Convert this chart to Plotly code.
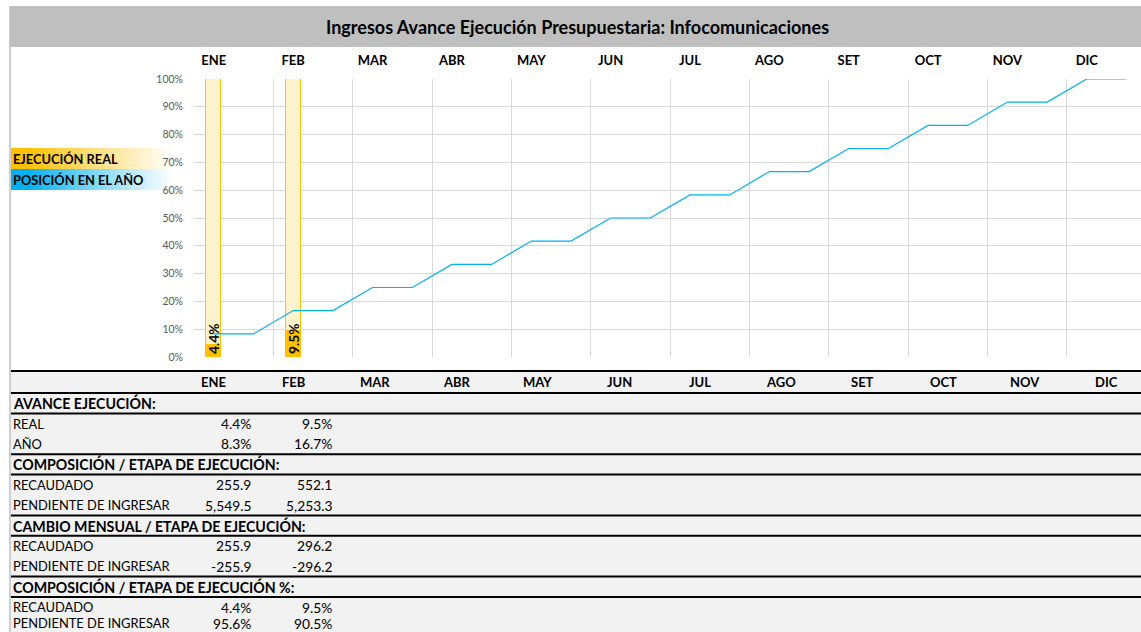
import plotly.graph_objects as go

# ---------------- data ----------------
months = ["ENE", "FEB", "MAR", "ABR", "MAY", "JUN", "JUL", "AGO", "SET", "OCT", "NOV", "DIC"]
real_pct = [4.4, 9.5]
year_pct = [8.3, 16.7, 25.0, 33.3, 41.7, 50.0, 58.3, 66.7, 75.0, 83.3, 91.7, 100.0]
recaudado = [255.9, 552.1]
pendiente = [5549.5, 5253.3]
cambio_recaudado = [255.9, 296.2]
cambio_pendiente = [-255.9, -296.2]
comp_recaudado_pct = [4.4, 9.5]
comp_pendiente_pct = [95.6, 90.5]
y_ticks = [0, 10, 20, 30, 40, 50, 60, 70, 80, 90, 100]

title = "Ingresos Avance Ejecución Presupuestaria: Infocomunicaciones"
legend_items = [("EJECUCIÓN REAL", "#ffc000"), ("POSICIÓN EN EL AÑO", "#00b0f0")]

# ---------------- helpers ----------------
W, H = 1141, 632
FONT = "Lato"
GOLD, LIGHT, BLUE = "#ffc000", "#fff2cc", "#00b0f0"


def px(x):
    return x / W


def py(y):
    return 1 - y / H


def pct(v):
    return f"{v:.1f}%"


def num(v):
    return f"{v:,.1f}"


fig = go.Figure()

n_real = len(real_pct)
idx_real = list(range(n_real))

# background bars (100%)
fig.add_trace(go.Bar(x=idx_real, y=[100] * n_real, width=0.19,
                     marker=dict(color=LIGHT, line=dict(color=GOLD, width=1)),
                     hoverinfo="skip", showlegend=False))
# actual execution bars
fig.add_trace(go.Bar(x=idx_real, y=real_pct, width=0.19,
                     marker=dict(color=GOLD, line=dict(color=GOLD, width=1)),
                     showlegend=False))
# label carrier (transparent)
fig.add_trace(go.Bar(x=idx_real, y=[100] * n_real, width=0.19,
                     marker=dict(color="rgba(0,0,0,0)", line=dict(width=0)),
                     text=[pct(v) for v in real_pct], textposition="inside",
                     insidetextanchor="start", textangle=-90, constraintext="none",
                     textfont=dict(family=FONT, size=13.8, color="black", weight="bold"),
                     hoverinfo="skip", showlegend=False))

# year position step line
lx, ly = [], []
for i, v in enumerate(year_pct):
    lx += [i, i + 0.5]
    ly += [v, v]
fig.add_trace(go.Scatter(x=lx, y=ly, mode="lines", line=dict(color=BLUE, width=1.2),
                         showlegend=False))

cat_w = 79.36
x0_px = 194
fig.update_layout(
    width=W, height=H, margin=dict(l=0, r=0, t=0, b=0, pad=0, autoexpand=False),
    paper_bgcolor="white", plot_bgcolor="white", barmode="overlay", bargap=0,
    font=dict(family=FONT, color="black"),
    xaxis=dict(domain=[px(x0_px), 1.0], range=[-0.25, -0.25 + (W - x0_px) / cat_w],
               tickmode="array", tickvals=list(range(12)), ticktext=months, side="top",
               ticks="", showgrid=False, zeroline=False, showline=False, automargin=False,
               tickfont=dict(family=FONT, size=13, color="black", weight="bold"),
               ticklabelstandoff=10,
               minor=dict(tickmode="linear", tick0=-0.25, dtick=1, showgrid=True,
                          gridcolor="#d9d9d9", gridwidth=1, ticks="")),
    yaxis=dict(domain=[py(357), py(79)], range=[0, 100], tickmode="array",
               tickvals=y_ticks, ticktext=[f"{v}%" for v in y_ticks],
               showgrid=True, gridcolor="#d9d9d9", gridwidth=1, zeroline=False,
               ticks="", ticklabelstandoff=10, automargin=False,
               tickfont=dict(family=FONT, size=10.5, color="#595959")),
)

shapes = []
annotations = []

# title bar
shapes.append(dict(type="rect", xref="paper", yref="paper", x0=px(10), x1=1, y0=py(47), y1=py(6),
                   fillcolor="#bfbfbf", line=dict(width=0), layer="below"))
annotations.append(dict(text=f"<b>{title}</b>", xref="paper", yref="paper", x=px(577), y=py(27),
                        showarrow=False, xanchor="center", yanchor="middle",
                        font=dict(family=FONT, size=18, color="black")))
# left border
shapes.append(dict(type="line", xref="paper", yref="paper", x0=px(10), x1=px(10), y0=0, y1=py(6),
                   line=dict(color="#bfbfbf", width=1.5)))

# legend with gradients
def mix(c, t):
    r, g, b = int(c[1:3], 16), int(c[3:5], 16), int(c[5:7], 16)
    return "rgb({},{},{})".format(int(r + (255 - r) * t), int(g + (255 - g) * t), int(b + (255 - b) * t))


leg_top = [148, 169]
for (label, color), top in zip(legend_items, leg_top):
    x_start, x_end, step = 11, 172, 2
    xs = x_start
    while xs < x_end:
        t = max(0.0, (xs - x_start - 15) / (x_end - x_start - 15))
        shapes.append(dict(type="rect", xref="paper", yref="paper", x0=px(xs), x1=px(min(xs + step, x_end)),
                           y0=py(top + 21), y1=py(top), fillcolor=mix(color, t ** 0.9),
                           line=dict(width=0), layer="below"))
        xs += step
    annotations.append(dict(text=f"<b>{label}</b>", xref="paper", yref="paper", x=px(10.5), y=py(top + 10.5),
                            showarrow=False, xanchor="left", yanchor="middle",
                            font=dict(family=FONT, size=12.8, color="black")))

# ---------------- table ----------------
shapes.append(dict(type="rect", xref="paper", yref="paper", x0=px(11), x1=1, y0=0, y1=py(371),
                   fillcolor="#f2f2f2", line=dict(width=0), layer="below"))

row_h = 20.4
col_c = [213 + i * 81.2 for i in range(12)]

# header row
for i, m in enumerate(months):
    annotations.append(dict(text=f"<b>{m}</b>", xref="paper", yref="paper", x=px(col_c[i]), y=py(382),
                            showarrow=False, xanchor="center", yanchor="middle",
                            font=dict(family=FONT, size=13, color="black")))

sections = [
    ("AVANCE EJECUCIÓN:", [("REAL", [pct(v) for v in real_pct]),
                           ("AÑO", [pct(v) for v in year_pct[:n_real]])]),
    ("COMPOSICIÓN / ETAPA DE EJECUCIÓN:", [("RECAUDADO", [num(v) for v in recaudado]),
                                           ("PENDIENTE DE INGRESAR", [num(v) for v in pendiente])]),
    ("CAMBIO MENSUAL / ETAPA DE EJECUCIÓN:", [("RECAUDADO", [num(v) for v in cambio_recaudado]),
                                              ("PENDIENTE DE INGRESAR", [num(v) for v in cambio_pendiente])]),
    ("COMPOSICIÓN / ETAPA DE EJECUCIÓN %:", [("RECAUDADO", [pct(v) for v in comp_recaudado_pct]),
                                             ("PENDIENTE DE INGRESAR", [pct(v) for v in comp_pendiente_pct])]),
]

line_ys = [371, 393]
y = 393
for head, rows in sections:
    if y not in line_ys:
        line_ys.append(y)
    annotations.append(dict(text=f"<b>{head}</b>", xref="paper", yref="paper", x=px(10.5), y=py(y + row_h / 2),
                            showarrow=False, xanchor="left", yanchor="middle",
                            font=dict(family=FONT, size=14.2, color="black")))
    y += row_h
    line_ys.append(y)
    for label, vals in rows:
        yc = min(y + row_h / 2, H - 9)  # keep the last row inside the picture
        annotations.append(dict(text=label, xref="paper", yref="paper", x=px(10.5), y=py(yc),
                                showarrow=False, xanchor="left", yanchor="middle",
                                font=dict(family=FONT, size=12.9, color="black")))
        for i, s in enumerate(vals):
            annotations.append(dict(text=s, xref="paper", yref="paper", x=px(col_c[i] + 40), y=py(yc),
                                    showarrow=False, xanchor="right", yanchor="middle",
                                    font=dict(family=FONT, size=13.8, color="black")))
        y += row_h

for ly_ in line_ys:
    shapes.append(dict(type="line", xref="paper", yref="paper", x0=px(11), x1=1, y0=py(ly_), y1=py(ly_),
                       line=dict(color="black", width=2)))

fig.update_layout(shapes=shapes, annotations=annotations)
fig.write_html("out.html", config={"displayModeBar": False},
               post_script="document.body.style.margin='0';")
